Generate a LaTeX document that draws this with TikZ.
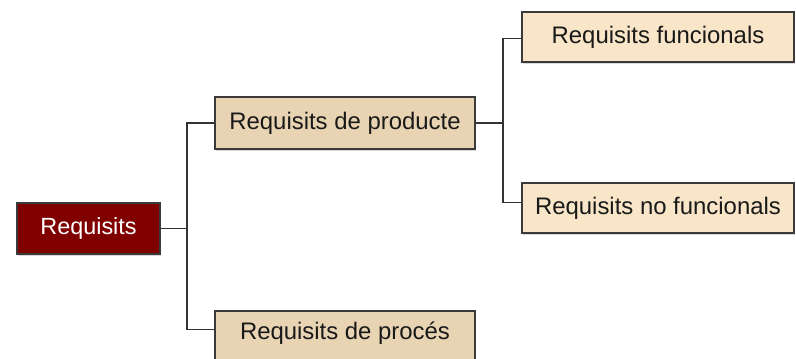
\documentclass[tikz,border=0pt]{standalone}
\usepackage{fontspec}
\setmainfont{Liberation Sans}
\usetikzlibrary{calc,shadows}
\definecolor{darkred}{HTML}{800000}
\definecolor{tanA}{HTML}{E8D4B2}
\definecolor{tanB}{HTML}{F9E5C7}
\definecolor{edgecol}{HTML}{3A3A3A}
\begin{document}
\begin{tikzpicture}[x=1bp,y=-1bp,
  box/.style={draw=edgecol, line width=1.3bp, rectangle, inner sep=0pt,
    text=black!90, font=\fontsize{24}{28}\selectfont,
    drop shadow={shadow xshift=1bp, shadow yshift=-1.5bp, opacity=0.3}},
  link/.style={draw=black!80, line width=1.6bp}]
\useasboundingbox (0,0) rectangle (796,358);
\node[box, fill=darkred, text=white, minimum width=143bp, minimum height=51bp,
  font=\fontsize{23.5}{27}\selectfont] (req) at (88.5,228.5) {Requisits};
\node[box, fill=tanA, minimum width=260bp, minimum height=52bp] (prod) at (345,123) {Requisits de producte};
\node[box, fill=tanA, minimum width=260bp, minimum height=52bp,
  text height=17bp, text depth=13bp] (proc) at (345,337) {Requisits de procés};
\node[box, fill=tanB, minimum width=272bp, minimum height=50bp] (func) at (658,37) {Requisits funcionals};
\node[box, fill=tanB, minimum width=272bp, minimum height=50bp] (nfunc) at (658,208) {Requisits no funcionals};
\coordinate (t1) at (187,228.5);
\coordinate (t2) at (503,123);
\draw[link] (req.east) -- (t1);
\draw[link] (t1) |- (prod.west);
\draw[link] (t1) |- ($(proc.north west)+(0,19)$);
\draw[link] (prod.east) -- (t2);
\draw[link] (t2) |- ($(func.north west)+(0,27)$);
\draw[link] (t2) |- ($(nfunc.north west)+(0,20)$);
\end{tikzpicture}
\end{document}
